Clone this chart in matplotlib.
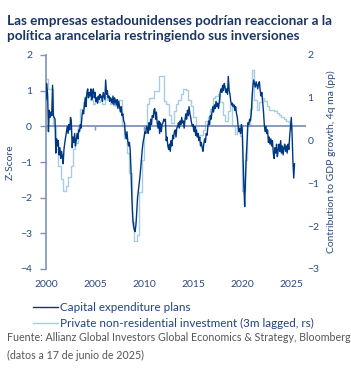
import matplotlib
matplotlib.use("Agg")
import matplotlib.pyplot as plt

plt.rcParams['font.family'] = ['Lato', 'DejaVu Sans']

title = "Las empresas estadounidenses podrían reaccionar a la\npolítica arancelaria restringiendo sus inversiones"
left_label = "Z-Score"
right_label = "Contribution to GDP growth, 4q ma (pp)"
capex_name = "Capital expenditure plans"
invest_name = "Private non-residential investment (3m lagged, rs)"
source = "Fuente: Allianz Global Investors Global Economics & Strategy, Bloomberg\n(datos a 17 de junio de 2025)"

year_ticks = [2000, 2005, 2010, 2015, 2020, 2025]
left_ticks = [-4, -3, -2, -1, 0, 1, 2]
right_ticks = [-3, -2, -1, 0, 1, 2]

capex_t = [
    2000.00, 2000.08, 2000.17, 2000.25, 2000.33, 2000.42, 2000.50, 2000.58, 2000.67, 2000.75, 2000.83, 2000.92,
    2001.00, 2001.08, 2001.17, 2001.25, 2001.33, 2001.42, 2001.50, 2001.58, 2001.67, 2001.75, 2001.83, 2001.92,
    2002.00, 2002.08, 2002.17, 2002.25, 2002.33, 2002.42, 2002.50, 2002.58, 2002.67, 2002.75, 2002.83, 2002.92,
    2003.00, 2003.08, 2003.17, 2003.25, 2003.33, 2003.42, 2003.50, 2003.58, 2003.67, 2003.75, 2003.83, 2003.92,
    2004.00, 2004.08, 2004.17, 2004.25, 2004.33, 2004.42, 2004.50, 2004.58, 2004.67, 2004.75, 2004.83, 2004.92,
    2005.00, 2005.08, 2005.17, 2005.25, 2005.33, 2005.42, 2005.50, 2005.58, 2005.67, 2005.75, 2005.83, 2005.92,
    2006.00, 2006.08, 2006.17, 2006.25, 2006.33, 2006.42, 2006.50, 2006.58, 2006.67, 2006.75, 2006.83, 2006.92,
    2007.00, 2007.08, 2007.17, 2007.25, 2007.33, 2007.42, 2007.50, 2007.58, 2007.67, 2007.75, 2007.83, 2007.92,
    2008.00, 2008.08, 2008.17, 2008.25, 2008.33, 2008.42, 2008.50, 2008.58, 2008.67, 2008.75, 2008.83, 2008.92,
    2009.00, 2009.08, 2009.17, 2009.25, 2009.33, 2009.42, 2009.50, 2009.58, 2009.67, 2009.75, 2009.83, 2009.92,
    2010.00, 2010.08, 2010.17, 2010.25, 2010.33, 2010.42, 2010.50, 2010.58, 2010.67, 2010.75, 2010.83, 2010.92,
    2011.00, 2011.08, 2011.17, 2011.25, 2011.33, 2011.42, 2011.50, 2011.58, 2011.67, 2011.75, 2011.83, 2011.92,
    2012.00, 2012.08, 2012.17, 2012.25, 2012.33, 2012.42, 2012.50, 2012.58, 2012.67, 2012.75, 2012.83, 2012.92,
    2013.00, 2013.08, 2013.17, 2013.25, 2013.33, 2013.42, 2013.50, 2013.58, 2013.67, 2013.75, 2013.83, 2013.92,
    2014.00, 2014.08, 2014.17, 2014.25, 2014.33, 2014.42, 2014.50, 2014.58, 2014.67, 2014.75, 2014.83, 2014.92,
    2015.00, 2015.08, 2015.17, 2015.25, 2015.33, 2015.42, 2015.50, 2015.58, 2015.67, 2015.75, 2015.83, 2015.92,
    2016.00, 2016.08, 2016.17, 2016.25, 2016.33, 2016.42, 2016.50, 2016.58, 2016.67, 2016.75, 2016.83, 2016.92,
    2017.00, 2017.08, 2017.17, 2017.25, 2017.33, 2017.42, 2017.50, 2017.58, 2017.67, 2017.75, 2017.83, 2017.92,
    2018.00, 2018.08, 2018.17, 2018.25, 2018.33, 2018.42, 2018.50, 2018.58, 2018.67, 2018.75, 2018.83, 2018.92,
    2019.00, 2019.08, 2019.17, 2019.25, 2019.33, 2019.42, 2019.50, 2019.58, 2019.67, 2019.75, 2019.83, 2019.92,
    2020.00, 2020.08, 2020.17, 2020.25, 2020.33, 2020.42, 2020.50, 2020.58, 2020.67, 2020.75, 2020.83, 2020.92,
    2021.00, 2021.08, 2021.17, 2021.25, 2021.33, 2021.42, 2021.50, 2021.58, 2021.67, 2021.75, 2021.83, 2021.92,
    2022.00, 2022.08, 2022.17, 2022.25, 2022.33, 2022.42, 2022.50, 2022.58, 2022.67, 2022.75, 2022.83, 2022.92,
    2023.00, 2023.08, 2023.17, 2023.25, 2023.33, 2023.42, 2023.50, 2023.58, 2023.67, 2023.75, 2023.83, 2023.92,
    2024.00, 2024.08, 2024.17, 2024.25, 2024.33, 2024.42, 2024.50, 2024.58, 2024.67, 2024.75, 2024.83, 2024.92,
    2025.00, 2025.08, 2025.17, 2025.25, 2025.33,
]
capex_v = [
    0.75, 1.20, 0.85, -0.15, 0.45, 0.25, 0.40, 0.30, 1.15, 0.30, 0.25, 0.20,
    -0.75, -0.35, -0.55, -0.40, -0.80, -0.60, -0.90, -0.70, -0.85, -1.05, -0.65, -0.45,
    -0.30, -0.15, 0.00, -0.20, 0.05, -0.10, 0.25, 0.15, -0.60, -0.30, -0.45, -0.20,
    -0.55, -0.40, -0.20, -0.35, -0.10, -0.15, 0.05, -0.05, 0.30, 0.45, 0.35, 0.60,
    0.80, 0.55, 0.95, 1.05, 0.80, 0.95, 0.85, 1.05, 0.75, 0.95, 1.05, 0.80,
    0.95, 0.70, 0.80, 0.65, 0.85, 0.75, 0.90, 0.80, 0.85, 0.70, 0.95, 0.85,
    0.75, 1.30, 0.90, 1.00, 0.80, 0.85, 0.70, 0.80, 0.75, 0.65, 0.85, 0.60,
    0.80, 0.70, 0.60, 0.75, 0.50, 0.70, 0.55, 0.40, 0.55, 0.30, 0.35, 0.15,
    0.10, -0.20, -0.35, -0.15, -0.40, -0.55, -0.45, -0.65, -1.30, -2.00, -2.50, -2.80,
    -2.90, -2.95, -2.75, -2.40, -2.00, -1.80, -1.60, -1.40, -1.10, -0.85, -0.60, -0.40,
    -0.30, -0.15, -0.20, 0.00, -0.05, -0.20, 0.10, -0.10, 0.20, 0.05, 0.30, 0.25,
    0.45, 0.50, 0.20, 0.40, 0.10, -0.05, 0.15, -0.20, 0.10, -0.15, 0.05, 0.10,
    0.20, 0.15, 0.20, -0.40, -0.30, -0.55, -0.65, -0.50, -0.70, -0.40, -0.55, -0.25,
    -0.35, -0.15, -0.10, -0.30, -0.05, 0.00, 0.10, -0.05, 0.15, 0.05, 0.25, 0.10,
    0.15, -0.05, 0.20, 0.35, 0.20, 0.45, 0.30, 0.55, 0.35, 0.25, 0.10, 0.00,
    0.05, -0.15, 0.00, -0.25, -0.10, -0.30, -0.20, -0.40, -0.30, -0.55, -0.45, -0.60,
    -0.70, -0.50, -0.35, -0.45, -0.20, -0.25, 0.00, 0.15, 0.05, 0.30, 0.20, 0.40,
    0.55, 0.40, 0.60, 0.50, 0.70, 0.55, 0.65, 0.50, 0.70, 0.95, 1.05, 0.95,
    1.15, 1.00, 1.20, 1.10, 0.95, 1.05, 0.90, 1.40, 1.00, 0.90, 0.70, 0.60,
    0.65, 0.55, 0.60, 0.45, 0.55, 0.35, 0.25, 0.00, -0.15, -0.05, -0.20, 0.05,
    -0.10, -0.90, -1.70, -2.25, -1.50, -0.80, -0.40, 0.10, 0.05, 0.20, 0.15, 0.35,
    0.80, 1.10, 1.30, 1.20, 1.10, 1.25, 1.15, 1.05, 1.20, 1.25, 1.00, 0.85,
    0.95, 0.70, 0.40, 0.05, -0.15, 0.00, -0.20, -0.10, -0.45, -0.30, -0.50, -0.35,
    -0.55, -0.40, -0.75, -0.90, -0.60, -0.75, -0.50, -0.85, -0.65, -0.50, -0.70, -0.40,
    -0.75, -0.55, -0.80, -0.60, -0.50, -0.70, -0.55, -0.75, -0.50, -0.65, -0.30, 0.00,
    0.25, -0.20, -1.00, -1.45, -1.05,
]

invest_t = [
    2000.00, 2000.25, 2000.50, 2000.75, 2001.00, 2001.25, 2001.50, 2001.75,
    2002.00, 2002.25, 2002.50, 2002.75, 2003.00, 2003.25, 2003.50, 2003.75,
    2004.00, 2004.25, 2004.50, 2004.75, 2005.00, 2005.25, 2005.50, 2005.75,
    2006.00, 2006.25, 2006.50, 2006.75, 2007.00, 2007.25, 2007.50, 2007.75,
    2008.00, 2008.25, 2008.50, 2008.75, 2009.00, 2009.25, 2009.50, 2009.75,
    2010.00, 2010.25, 2010.50, 2010.75, 2011.00, 2011.25, 2011.50, 2011.75,
    2012.00, 2012.25, 2012.50, 2012.75, 2013.00, 2013.25, 2013.50, 2013.75,
    2014.00, 2014.25, 2014.50, 2014.75, 2015.00, 2015.25, 2015.50, 2015.75,
    2016.00, 2016.25, 2016.50, 2016.75, 2017.00, 2017.25, 2017.50, 2017.75,
    2018.00, 2018.25, 2018.50, 2018.75, 2019.00, 2019.25, 2019.50, 2019.75,
    2020.00, 2020.25, 2020.50, 2020.75, 2021.00, 2021.25, 2021.50, 2021.75,
    2022.00, 2022.25, 2022.50, 2022.75, 2023.00, 2023.25, 2023.50, 2023.75,
    2024.00, 2024.25, 2024.50, 2024.75, 2025.00,
]
invest_v = [
    1.45, 1.20, 1.20, 0.35, -0.20, -0.60, -0.90, -1.18,
    -1.05, -0.85, -0.60, -0.20, -0.05, 0.35, 0.75, 0.90,
    1.05, 1.10, 0.95, 0.85, 1.00, 0.90, 0.95, 0.85,
    1.05, 0.95, 0.85, 0.90, 0.80, 0.95, 0.95, 0.35,
    0.05, -0.30, -0.75, -1.90, -2.35, -2.20, -1.20, -0.45,
    0.30, 0.85, 1.00, 1.00, 1.15, 1.15, 1.50, 1.50,
    0.92, 0.85, 0.60, 0.40, 0.70, 0.85, 0.95, 1.10,
    1.20, 1.18, 0.95, 0.80, 0.55, 0.15, 0.14, 0.14,
    0.25, 0.45, 0.55, 0.75, 1.00, 1.05, 1.10, 0.90,
    0.60, 0.45, 0.70, 0.85, 0.35, 0.15, 0.30, 0.10,
    -1.18, -0.45, 0.35, 0.75, 1.66, 0.96, 0.72, 0.90,
    1.00, 0.92, 0.80, 0.72, 0.72, 0.70, 0.65, 0.60,
    0.55, 0.50, 0.45, 0.42, 0.33,
]

navy = '#003781'
light = '#a8cde2'
axis_col = '#7f93b6'
tick_col = '#2b4a80'

fig = plt.figure(figsize=(3.51, 3.70), dpi=100)
ax = fig.add_axes([46/351, (370-269)/370, 260/351, 214/370])
ax2 = ax.twinx()
ax.set_zorder(ax2.get_zorder() + 1)
ax.patch.set_visible(False)

l2, = ax2.plot(invest_t, invest_v, color=light, lw=1.0, drawstyle='steps-post')
ax.axhline(0, color=axis_col, lw=1.3, zorder=1)
l1, = ax.plot(capex_t, capex_v, color=navy, lw=1.0, zorder=3)

ax.set_xlim(2000, 2026.5)
ax.set_ylim(-4, 2)
ax2.set_ylim(-3, 2)
ax.set_yticks(left_ticks)
ax2.set_yticks(right_ticks)
ax.set_xticks(year_ticks)

for s in ['top', 'right', 'bottom']:
    ax.spines[s].set_visible(False)
for s in ax2.spines.values():
    s.set_visible(False)
ax.spines['left'].set_color(axis_col)
ax.spines['left'].set_linewidth(1.2)

ax.tick_params(axis='y', length=4, width=1.0, color=axis_col, pad=6, labelsize=7.5, labelcolor=tick_col)
ax.tick_params(axis='x', length=0, pad=8, labelsize=7.5, labelcolor=tick_col)
ax2.tick_params(axis='y', length=0, pad=1, labelsize=7.5, labelcolor=tick_col)

sec = ax.secondary_xaxis(4/6)
sec.set_xticks(year_ticks)
sec.set_xticklabels([])
sec.tick_params(axis='x', direction='in', length=3, width=1.0, color=axis_col,
                labeltop=False, labelbottom=False)
for s in sec.spines.values():
    s.set_visible(False)

ax.set_ylabel(left_label, fontsize=7.5, color=tick_col, labelpad=4)
ax2.set_ylabel(right_label, fontsize=7.5, color=tick_col, labelpad=5)

fig.text(7/351, 1 - 15/370, title, va='top', ha='left', fontsize=9.7,
         fontweight='bold', color='#1b3665', linespacing=1.3)

fig.legend(handles=[l1, l2], labels=[capex_name, invest_name], loc='upper left',
           bbox_to_anchor=(33/351, 1 - 302/370), frameon=False, fontsize=8.4,
           handlelength=2.1, handletextpad=0.2, labelspacing=0.45,
           labelcolor='#1f4280', borderaxespad=0, borderpad=0)

fig.text(7/351, 1 - 332/370, source, va='top', ha='left', fontsize=7.7,
         color='#555555', linespacing=1.75)

fig.savefig('out.png', dpi=100)
